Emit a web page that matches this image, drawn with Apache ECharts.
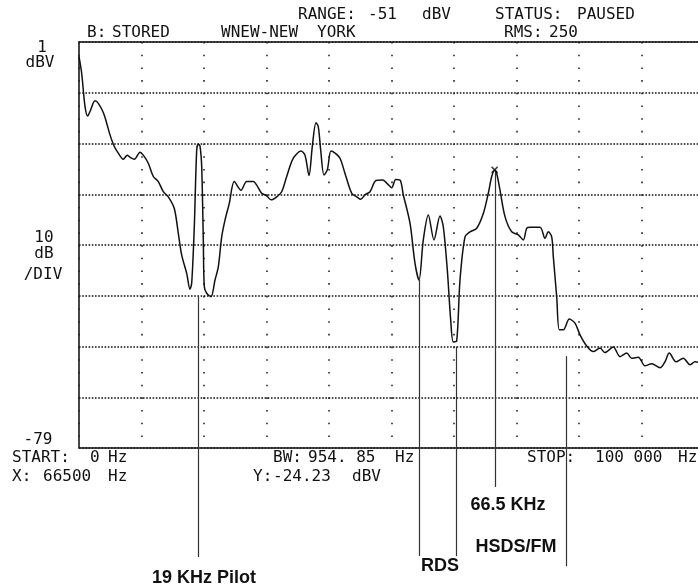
<!DOCTYPE html>
<html>
<head>
<meta charset="utf-8">
<script src="https://cdn.jsdelivr.net/npm/echarts@6/dist/echarts.min.js"></script>
<style>
html,body{margin:0;padding:0;background:#fff;overflow:hidden;width:698px;height:588px;}
#chart{width:712px;height:588px;}
</style>
</head>
<body>
<div id="chart"></div>
<script>
// ---- Data ----
const freqHz = [0,432,960,1392,1760,2560,3088,3888,4432,4960,5648,6288,7088,7728,8160,8848,9760,10288,11088,11888,12688,13488,14288,15248,15888,16432,17232,17760,18032,18448,18832,19088,19360,19632,19888,20048,20432,21120,21760,22288,22832,23360,24048,24848,25920,26832,27888,28432,29232,30032,30720,31632,32432,33232,34288,35520,36160,36800,37328,37920,38288,38672,39200,39728,40320,40960,41760,42560,43632,44432,45072,45760,46560,47520,48592,49232,50032,50672,51360,51888,52960,53760,54400,55088,55888,56800,57760,58288,58928,59472,59888,60432,60960,61760,62560,63632,64688,65488,66032,66500,66832,67360,68160,69232,70288,71088,71632,72160,73760,74560,75088,75632,75888,76432,76848,77488,78448,79360,80160,81232,82288,83360,84160,85488,86560,87632,88432,89488,90560,91632,92960,93760,94448,95520,96688,97760,98560,100000];
const levelDbv = [-1.9,-5.2,-11.7,-13.6,-12.7,-10.6,-11.1,-12.9,-15.0,-17.3,-19.6,-20.9,-22.1,-21.3,-21.7,-22.1,-20.7,-21.3,-22.9,-25.5,-26.5,-28.5,-29.5,-31.8,-36.7,-41.0,-44.6,-47.7,-46.5,-35.4,-20.3,-19.1,-19.5,-23.6,-38.0,-47.2,-48.5,-49.2,-45.9,-43.3,-37.4,-34.1,-30.8,-26.5,-28.2,-26.5,-26.5,-27.2,-28.8,-29.3,-30.1,-29.5,-28.5,-25.5,-21.9,-20.5,-21.3,-25.3,-19.6,-14.9,-15.7,-20.3,-25.2,-24.2,-20.5,-20.9,-21.9,-24.9,-28.8,-29.5,-30.0,-29.1,-28.5,-26.3,-26.2,-26.8,-27.7,-26.1,-26.2,-29.1,-34.7,-42.6,-45.9,-38.0,-33.1,-38.0,-33.3,-35.4,-43.9,-53.8,-58.1,-57.9,-45.9,-37.4,-36.4,-35.7,-32.8,-28.8,-25.5,-24.2,-24.9,-28.2,-33.4,-36.4,-37.0,-38.0,-35.7,-35.5,-35.5,-37.7,-36.4,-37.4,-41.3,-49.2,-55.7,-55.7,-53.6,-54.4,-56.7,-58.9,-60.0,-59.3,-60.2,-59.1,-61.0,-60.3,-61.3,-61.1,-62.8,-62.4,-63.2,-62.0,-60.3,-62.0,-61.3,-62.6,-62.0,-62.4];

// cursor marker
const markerHz = [66500];
const markerDbv = [-24.2];

// axis scale (10 dB/div, 10 kHz/div)
const yMin = -79, yMax = 1, yStep = 10;
const xMin = 0, xMax = 100000, xStep = 10000;

// annotation pointer lines (Hz, top dBV, bottom dBV)
const annotHz     = [19100, 54400, 60320, 66500, 77870];
const annotTopDb  = [-49.1, -45.9, -59.0, -24.2, -60.9];
const annotBotDb  = [-100.5, -100.3, -100.3, -86.7, -102.3];
// annotation labels (centre, in Hz / dBV)
const labelText = ['19 KHz Pilot', 'RDS', '66.5 KHz', 'HSDS/FM'];
const labelHz   = [20000, 57760, 68640, 69920];
const labelDb   = [-104.6, -102.3, -90.2, -98.5];

const MONO = '"DejaVu Sans Mono", monospace';
const BOLD = 'bold 18px "Liberation Sans", Arial, sans-serif';

const chart = echarts.init(document.getElementById('chart'), null, {renderer:'canvas'});

const option = {
  backgroundColor: '#ffffff',
  animation: false,
  grid: { left: 79, top: 42, width: 625, height: 406, show: true, borderColor: '#1a1a1a', borderWidth: 1.6, backgroundColor: 'transparent' },
  xAxis: {
    type: 'value', min: xMin, max: xMax, interval: xStep,
    axisLine: {show:false}, axisTick: {show:false}, axisLabel: {show:false},
    splitLine: { show: true, lineStyle: { color: '#222', width: 1.6, type: [1.6, 11.09] } }
  },
  yAxis: {
    type: 'value', min: yMin, max: yMax, interval: yStep,
    axisLine: {show:false}, axisTick: {show:false}, axisLabel: {show:false},
    splitLine: { show: true, lineStyle: { color: '#111', width: 1.7, type: [1.6, 1.6] } }
  },
  series: [
    {
      type: 'line',
      data: freqHz.map((f, i) => [f, levelDbv[i]]),
      showSymbol: false, symbol: 'none',
      smooth: 0.3,
      clip: true,
      lineStyle: { color: '#111', width: 1.5 },
      z: 5
    },
    {
      type: 'scatter',
      data: markerHz.map((f, i) => [f, markerDbv[i]]),
      symbol: 'path://M0,0 L10,10 M10,0 L0,10',
      symbolSize: 6,
      itemStyle: { color: 'none', borderColor: '#111', borderWidth: 1.5 },
      z: 6
    }
  ]
};
chart.setOption(option);

function t(text, x, y, opts) {
  opts = opts || {};
  return {
    type: 'text', silent: true, z: 10,
    style: {
      text: text, x: x, y: y,
      font: opts.font || ('16px ' + MONO),
      fill: opts.fill || '#111',
      textAlign: opts.align || 'left', align: opts.align || 'left',
      textVerticalAlign: 'middle', verticalAlign: 'middle'
    }
  };
}

const g = [];
// header
g.push(t('RANGE:', 298, 15), t('-51', 368, 15), t('dBV', 422, 15), t('STATUS:', 495, 15), t('PAUSED', 577, 15));
g.push(t('B:', 87, 33), t('STORED', 112, 33), t('WNEW-NEW', 221, 33), t('YORK', 317, 33), t('RMS:', 504, 33), t('250', 549, 33));
// left scale labels
g.push(t('1', 42, 48, {align:'center'}), t('dBV', 40, 63, {align:'center'}));
g.push(t('10', 44, 238, {align:'center'}), t('dB', 44, 254, {align:'center'}), t('/DIV', 43, 275, {align:'center'}));
g.push(t('-79', 38, 440, {align:'center'}));
// footer
g.push(t('START:', 12, 458), t('0', 90, 458), t('Hz', 108, 458), t('BW:', 273, 458), t('954. 85', 308, 458), t('Hz', 395, 458), t('STOP:', 527, 458), t('100 000', 595, 458), t('Hz', 678, 458));
g.push(t('X:', 12, 477), t('66500', 43, 477), t('Hz', 108, 477), t('Y:', 253, 477), t('-24.23', 273, 477), t('dBV', 352, 477));

// annotation lines
annotHz.forEach((f, i) => {
  const p1 = chart.convertToPixel({gridIndex:0}, [f, annotTopDb[i]]);
  const p2 = chart.convertToPixel({gridIndex:0}, [f, annotBotDb[i]]);
  g.push({
    type: 'line', silent: true, z: 4,
    shape: { x1: Math.round(p1[0]) + 0.5, y1: p1[1], x2: Math.round(p2[0]) + 0.5, y2: p2[1] },
    style: { stroke: '#333', lineWidth: 1.2 }
  });
});
labelText.forEach((s, i) => {
  const p = chart.convertToPixel({gridIndex:0}, [labelHz[i], labelDb[i]]);
  g.push(t(s, p[0], p[1], {align:'center', font: BOLD}));
});

chart.setOption({ graphic: { elements: g } });
</script>
</body>
</html>
